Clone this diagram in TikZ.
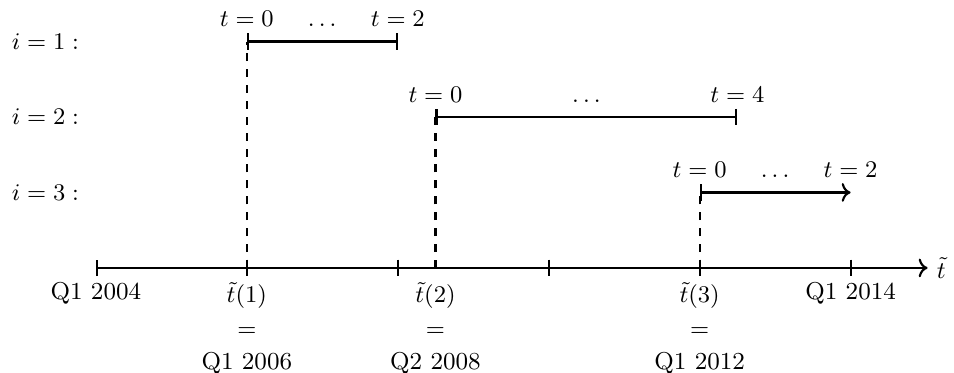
\documentclass[tikz,border=0pt]{standalone}
\usetikzlibrary{arrows.meta,positioning,calc}
\begin{document}
\begin{tikzpicture}[
  font=\fontsize{9.2}{12.6}\selectfont,
  axis/.style={thick},
  span/.style={thick},
  guide/.style={thick,dashed},
  lbl/.style={above=2pt},
  date/.style={below=2pt,align=center},
  row/.style={anchor=east},
]
\useasboundingbox (-1.27,-1.39) rectangle (11.37,3.55);
% time axis with ticks
\coordinate (k0) at (0,0);
\coordinate (kend) at (11.02,0);
\draw[axis,|->] (k0) -- (kend);
\node[right] (tt) at (kend) {$\tilde{t}$};
\foreach \x in {2,4,6,8,10}
  \draw[axis] (\x,0.11) -- (\x,-0.11);
\coordinate (k1) at (2,0);
\coordinate (k2) at (4.5,0);
\coordinate (k3) at (8,0);
\coordinate (k4) at (10,0);
\node[date] (d0) at (k0) {Q1 2004};
\node[date] (d1) at (k1) {$\tilde{t}(1)$\\$=$\\Q1 2006};
\node[date] (d2) at (k2) {$\tilde{t}(2)$\\$=$\\Q2 2008};
\node[date] (d3) at (k3) {$\tilde{t}(3)$\\$=$\\Q1 2012};
\node[date] (d4) at (k4) {Q1 2014};
% spans per unit
\coordinate (s1) at (2,3);   \coordinate (e1) at (4,3);
\coordinate (s2) at (4.5,2); \coordinate (e2) at (8.5,2);
\coordinate (s3) at (8,1);   \coordinate (e3) at (10,1);
\draw[span,|-|] (s1) -- (e1);
\draw[span,|-|] (s2) -- (e2);
\draw[span,|->] (s3) -- (e3);
\foreach \n in {1,2,3}
  \draw[guide] (k\n) -- (s\n);
\node[row] (r1) at (-0.1,3) {$i=1:$};
\node[row] (r2) at (-0.1,2) {$i=2:$};
\node[row] (r3) at (-0.1,1) {$i=3:$};
\node[lbl] (a1) at (s1) {$t=0$};
\node[lbl] (m1) at ($(s1)!0.5!(e1)$) {$\dots$};
\node[lbl] (b1) at (e1) {$t=2$};
\node[lbl] (a2) at (s2) {$t=0$};
\node[lbl] (m2) at ($(s2)!0.5!(e2)$) {$\dots$};
\node[lbl] (b2) at (e2) {$t=4$};
\node[lbl] (a3) at (s3) {$t=0$};
\node[lbl] (m3) at ($(s3)!0.5!(e3)$) {$\dots$};
\node[lbl] (b3) at (e3) {$t=2$};
\end{tikzpicture}
\end{document}
